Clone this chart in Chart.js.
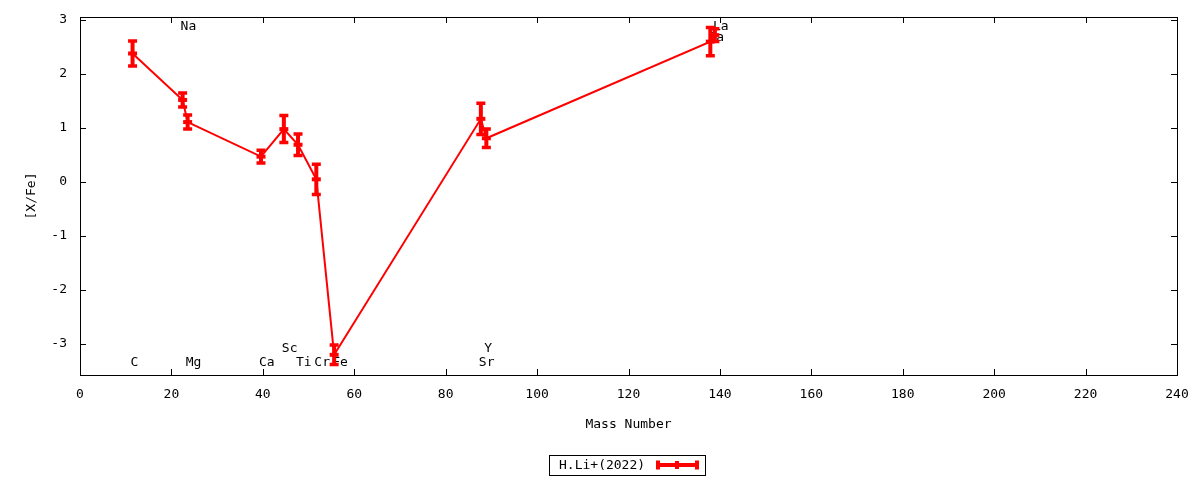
<!DOCTYPE html>
<html><head><meta charset="utf-8">
<script src="https://cdn.jsdelivr.net/npm/chart.js@4"></script>
<style>html,body{margin:0;padding:0;background:#fff}#wrap{width:1200px;height:480px;position:relative}</style>
</head><body><div id="wrap"><canvas id="c" width="1200" height="480"></canvas></div>
<script>
// ---- data ----
const elements   = ['C','Na','Mg','Ca','Sc','Ti','Cr','Fe','Sr','Y','Ba','La'];
const massNumber = [11.5, 22.45, 23.55, 39.6, 44.6, 47.7, 51.7, 55.6, 87.7, 88.9, 137.9, 138.9];
const xFe        = [2.38, 1.52, 1.11, 0.47, 0.98, 0.69, 0.05, -3.2, 1.17, 0.81, 2.6, 2.72];
const xFeErr     = [0.23, 0.13, 0.13, 0.12, 0.25, 0.2, 0.28, 0.18, 0.29, 0.17, 0.26, 0.12];
const labelY     = [-3.35, 2.87, -3.35, -3.35, -3.09, -3.35, -3.35, -3.35, -3.35, -3.09, 2.67, 2.87];
const xTicks = [0,20,40,60,80,100,120,140,160,180,200,220,240];
const yTicks = [-3,-2,-1,0,1,2,3];
const seriesName = 'H.Li+(2022)';
const xTitle = 'Mass Number';
const yTitle = '[X/Fe]';

const RED = '#ff0000';
const MONO = "'DejaVu Sans Mono', monospace";

const points = massNumber.map((m,i)=>({x:m, y:xFe[i]}));

const gnuplotPlugin = {
  id: 'gnuplot',
  beforeDatasetsDraw(chart){
    const ctx = chart.ctx, xs = chart.scales.x, ys = chart.scales.y, a = chart.chartArea;
    ctx.save();
    ctx.strokeStyle = '#000'; ctx.lineWidth = 1;
    ctx.strokeRect(Math.round(a.left)+0.5, Math.round(a.top)+0.5, Math.round(a.right-a.left), Math.round(a.bottom-a.top));
    ctx.beginPath();
    xTicks.forEach(v=>{
      const px = Math.round(xs.getPixelForValue(v))+0.5;
      ctx.moveTo(px, a.bottom); ctx.lineTo(px, a.bottom-6);
      ctx.moveTo(px, a.top); ctx.lineTo(px, a.top+6);
    });
    yTicks.forEach(v=>{
      const py = Math.round(ys.getPixelForValue(v))+0.5;
      ctx.moveTo(a.left, py); ctx.lineTo(a.left+6, py);
      ctx.moveTo(a.right, py); ctx.lineTo(a.right-6, py);
    });
    ctx.stroke();
    ctx.fillStyle = '#000';
    ctx.font = '13px ' + MONO;
    ctx.textAlign = 'left'; ctx.textBaseline = 'middle';
    elements.forEach((e,i)=>{
      ctx.fillText(e, xs.getPixelForValue(massNumber[i]) - 2, ys.getPixelForValue(labelY[i]));
    });
    ctx.restore();
  },
  afterDatasetsDraw(chart){
    const ctx = chart.ctx, xs = chart.scales.x, ys = chart.scales.y;
    ctx.save();
    ctx.strokeStyle = RED; ctx.lineCap = 'butt';
    massNumber.forEach((m,i)=>{
      const px = xs.getPixelForValue(m);
      const y1 = ys.getPixelForValue(xFe[i] + xFeErr[i]);
      const y2 = ys.getPixelForValue(xFe[i] - xFeErr[i]);
      ctx.lineWidth = 4;
      ctx.beginPath();
      ctx.moveTo(px, y1); ctx.lineTo(px, y2);
      ctx.stroke();
      ctx.lineWidth = 3.5;
      ctx.beginPath();
      ctx.moveTo(px-4.5, y1); ctx.lineTo(px+4.5, y1);
      ctx.moveTo(px-4.5, y2); ctx.lineTo(px+4.5, y2);
      ctx.stroke();
    });
    ctx.restore();
  },
  afterDraw(chart){
    const ctx = chart.ctx, a = chart.chartArea;
    ctx.save();
    ctx.fillStyle = '#000';
    ctx.font = '13px ' + MONO;
    ctx.textAlign = 'center'; ctx.textBaseline = 'middle';
    ctx.fillText(xTitle, (a.left + a.right)/2, 425);
    ctx.save();
    ctx.translate(32, (a.top + a.bottom)/2);
    ctx.rotate(-Math.PI/2);
    ctx.fillText(yTitle, 0, 0);
    ctx.restore();
    ctx.strokeStyle = '#000'; ctx.lineWidth = 1;
    ctx.strokeRect(549.5, 455.5, 156, 20);
    ctx.textAlign = 'left';
    ctx.fillText(seriesName, 559, 465.5);
    ctx.strokeStyle = RED; ctx.lineWidth = 4;
    ctx.beginPath();
    ctx.moveTo(656, 465); ctx.lineTo(699, 465);
    ctx.moveTo(658, 460.5); ctx.lineTo(658, 469.5);
    ctx.moveTo(697, 460.5); ctx.lineTo(697, 469.5);
    ctx.moveTo(677, 461); ctx.lineTo(677, 469);
    ctx.stroke();
    ctx.restore();
  }
};

new Chart(document.getElementById('c'), {
  type: 'line',
  data: {
    datasets: [{
      label: seriesName,
      data: points,
      borderColor: RED,
      backgroundColor: RED,
      borderWidth: 2,
      pointStyle: 'line',
      pointRadius: 4.5,
      pointBorderWidth: 4,
      pointBorderColor: RED,
      tension: 0,
      fill: false
    }]
  },
  options: {
    responsive: false,
    animation: false,
    devicePixelRatio: 1,
    layout: { padding: { top: 17, right: 23, left: 0, bottom: 0 } },
    plugins: { legend: { display: false }, tooltip: { enabled: false } },
    scales: {
      x: {
        type: 'linear', min: 0, max: 240,
        grid: { display: false, drawTicks: false },
        border: { display: false },
        afterFit(s){ s.height = 105; s.paddingLeft = 0; s.paddingRight = 0; },
        afterBuildTicks(s){ s.ticks = xTicks.map(v=>({value:v})); },
        ticks: { color: '#000', font: { family: MONO, size: 13 }, padding: 12, maxRotation: 0, autoSkip: false }
      },
      y: {
        type: 'linear', min: -3.574, max: 3.056,
        grid: { display: false, drawTicks: false },
        border: { display: false },
        afterFit(s){ s.width = 80; s.paddingTop = 0; s.paddingBottom = 0; },
        afterBuildTicks(s){ s.ticks = yTicks.map(v=>({value:v})); },
        ticks: { color: '#000', font: { family: MONO, size: 13 }, padding: 13, autoSkip: false }
      }
    }
  },
  plugins: [gnuplotPlugin]
});
</script></body></html>
